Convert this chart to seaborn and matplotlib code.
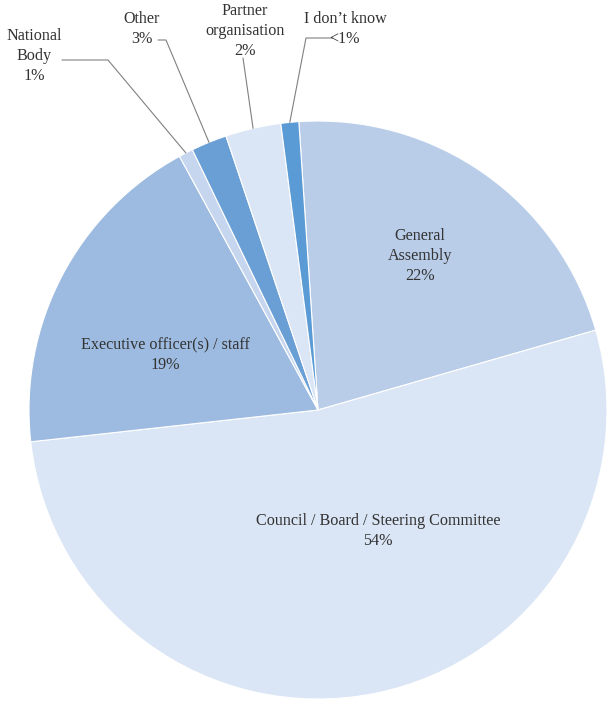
import numpy as np
import matplotlib
matplotlib.use("Agg")
import matplotlib.pyplot as plt
import seaborn as sns

# data (clockwise from the top)
labels = ["General\nAssembly", "Council / Board / Steering Committee",
          "Executive officer(s) / staff", "National\nBody", "Other",
          "Partner\norganisation", "I don\u2019t know"]
shares = [21.6, 52.7, 18.8, 0.8, 2.0, 3.1, 1.0]
pct_text = ["22%", "54%", "19%", "1%", "3%", "2%", "<1%"]
colors = ["#b9cde9", "#dae5f5", "#9dbbe0", "#c5d6ee", "#6a9fd6", "#dae5f5", "#5b9bd5"]

sns.set_theme(style="white")
plt.rcParams["font.family"] = ["Liberation Serif", "DejaVu Serif"]

W, H = 609, 706
fig = plt.figure(figsize=(W / 100, H / 100), dpi=100)
ax = fig.add_axes([0, 0, 1, 1])

cx, cy, r = 318, H - 410, 289
wedges, _ = ax.pie(shares, colors=colors, startangle=93.8, counterclock=False,
                   center=(cx, cy), radius=r, frame=True,
                   wedgeprops=dict(edgecolor="white", linewidth=0.8))
ax.set_xlim(0, W)
ax.set_ylim(0, H)
ax.set_axis_off()

txt = dict(fontsize=11.6, color="#333333", ha="center", va="center", linespacing=1.35)

# labels inside the big slices
inside = {0: (420, 256), 1: (378, 531), 2: (165, 355)}
for i, (x, y) in inside.items():
    ax.text(x, H - y, labels[i] + "\n" + pct_text[i], **txt)

# small slices: outside labels with leader lines
outside = {
    3: ((34, 56), [(62, 60), (108, 60)]),
    4: ((142, 29), [(158, 40), (166, 40)]),
    5: ((245, 31), [(243, 58)]),
    6: ((345, 29), [(333, 38), (306, 38)]),
}
for i, ((x, y), path) in outside.items():
    w = wedges[i]
    mid = np.deg2rad((w.theta1 + w.theta2) / 2)
    ex, ey = cx + r * np.cos(mid), cy + r * np.sin(mid)
    xs = [p[0] for p in path] + [ex]
    ys = [H - p[1] for p in path] + [ey]
    ax.plot(xs, ys, color="#808080", linewidth=0.8)
    ax.text(x, H - y, labels[i] + "\n" + pct_text[i], **txt)

fig.savefig("out.png", dpi=100, facecolor="white")
